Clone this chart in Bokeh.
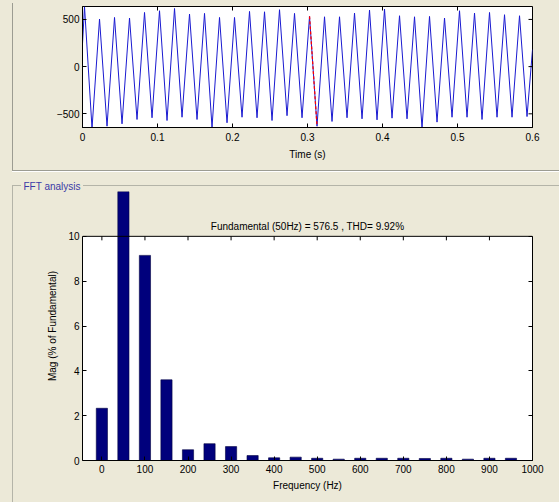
import numpy as np
from bokeh.plotting import figure
from bokeh.layouts import column
from bokeh.models import (Range1d, LinearAxis, FixedTicker, NumeralTickFormatter,
                          Span, Label)
from bokeh.embed import file_html
from bokeh.resources import INLINE

# ---------------------------------------------------------------------------
# Measured signal: extreme value of every half cycle of the 50 Hz waveform (V)
# ---------------------------------------------------------------------------
peak_values = [634, 504, 521, 515, 574, 592, 616, 557, 564, 521,
               521, 585, 581, 603, 564, 532, 528, 528, 567, 599,
               610, 539, 528, 532, 515, 592, 567, 574, 550, 539]
trough_values = [-652, -631, -606, -560, -542, -571, -536, -560, -642, -595,
                 -536, -542, -571, -520, -542, -631, -581, -542, -553, -564,
                 -546, -553, -649, -588, -536, -536, -560, -536, -536, -529]
start_value = 243        # value at t = 0
end_value = 180          # value at t = 0.6 s
first_peak_time = 0.0027
half_cycle = 0.01        # 50 Hz -> one extremum every 10 ms
fft_window = (0.30, 0.32)

time_ticks = [0, 0.1, 0.2, 0.3, 0.4, 0.5, 0.6]
signal_ticks = [-500, 0, 500]

# ---------------------------------------------------------------------------
# FFT of the selected cycle (% of fundamental)
# ---------------------------------------------------------------------------
freq_hz = [0, 50, 100, 150, 200, 250, 300, 350, 400, 450,
           500, 550, 600, 650, 700, 750, 800, 850, 900, 950]
mag_pct = [2.33, 100.0, 9.15, 3.60, 0.48, 0.75, 0.62, 0.22, 0.12, 0.15,
           0.10, 0.06, 0.10, 0.10, 0.10, 0.09, 0.10, 0.06, 0.10, 0.10]
fundamental = 576.5
thd_pct = 9.92
freq_ticks = [0, 100, 200, 300, 400, 500, 600, 700, 800, 900, 1000]
mag_ticks = [0, 2, 4, 6, 8, 10]

# ---------------------------------------------------------------------------
BG = "#ECE9D8"
EDGE = "#9c9c92"
GROUP = "#b4b4a8"
CAPTION = "#3a3aa6"
FONT = "Liberation Sans"
TICK_FS = "10px"
LABEL_FS = "10px"
W = 559
TICK_PX = 4


def style_axis(ax, ticks, labels=True):
    ax.ticker = FixedTicker(ticks=ticks)
    ax.major_tick_in = TICK_PX
    ax.major_tick_out = 0
    ax.minor_tick_line_color = None
    ax.axis_line_color = "black"
    ax.major_tick_line_color = "black"
    ax.major_label_text_font = FONT
    ax.major_label_text_font_size = TICK_FS
    ax.major_label_text_color = "black" if labels else None
    ax.axis_label_text_font = FONT
    ax.axis_label_text_font_size = LABEL_FS
    ax.axis_label_text_font_style = "normal"
    ax.axis_label_text_color = "black"


def css_lines(lines):
    """Panel background made of 1px rules: (x, y, w, h, colour)."""
    return {
        "background-color": BG,
        "background-image": ", ".join(f"linear-gradient({c}, {c})" for *_, c in lines),
        "background-size": ", ".join(f"{w}px {h}px" for _, _, w, h, _ in lines),
        "background-position": ", ".join(f"{x}px {y}px" for x, y, _, _, _ in lines),
        "background-repeat": "no-repeat",
    }


# ---------------------------- time signal panel ----------------------------
TL, TR, TT, TB, TH = 82, 27, 6, 43, 170
t_lo, t_hi = 0.0, 0.6
v_lo, v_hi = -645, 637

top = figure(width=W, height=TH, x_range=Range1d(t_lo, t_hi), y_range=Range1d(v_lo, v_hi),
             output_backend="svg", toolbar_location=None,
             min_border_left=TL, min_border_right=TR, min_border_top=TT, min_border_bottom=TB,
             background_fill_color="white", border_fill_color=None,
             outline_line_color="black",
             styles=css_lines([(12, 3, 1, TH - 3, EDGE)]))
top.grid.visible = False

style_axis(top.xaxis[0], time_ticks)
top.xaxis[0].formatter = NumeralTickFormatter(format="0.[0]")
top.xaxis[0].axis_label = "Time (s)"
top.xaxis[0].major_label_standoff = 5
top.xaxis[0].axis_label_standoff = 5
style_axis(top.yaxis[0], signal_ticks)
top.yaxis[0].major_label_standoff = 3

n_ext = 2 * len(peak_values)
ext_t = first_peak_time + half_cycle * np.arange(n_ext)
ext_v = np.empty(n_ext)
ext_v[0::2] = peak_values
ext_v[1::2] = trough_values
sig_t = np.concatenate([[t_lo], ext_t, [t_hi]])
sig_v = np.concatenate([[start_value], ext_v, [end_value]])

top.line(sig_t, sig_v, line_color="#1a1ad0", line_width=1)
sel = (sig_t >= fft_window[0]) & (sig_t <= fft_window[1])
top.line(sig_t[sel], sig_v[sel], line_color="#ff0000", line_width=1.3, line_dash="3 2")

# inward ticks on the top and right edges of the box
fw, fh = W - TL - TR, TH - TT - TB
tx = TICK_PX / fw * (t_hi - t_lo)
ty = TICK_PX / fh * (v_hi - v_lo)
top.segment(x0=time_ticks, x1=time_ticks, y0=[v_hi] * len(time_ticks),
            y1=[v_hi - ty] * len(time_ticks), line_color="black")
top.segment(x0=[t_hi] * len(signal_ticks), x1=[t_hi - tx] * len(signal_ticks),
            y0=signal_ticks, y1=signal_ticks, line_color="black")

# ------------------------------ FFT panel ----------------------------------
BL, BR, BT, BB, BH = 79, 26, 21, 42, 332
f_lo, f_hi = -45, 1000
m_lo, m_hi = 0, 12.0

bot_lines = [
    (12, 0, W - 12, 1, EDGE), (12, 1, W - 12, 1, "#ffffff"),        # panel separator
    (12, 15, 9, 1, GROUP), (83, 15, W - 83, 1, GROUP),              # group box top
    (12, 15, 1, BH - 15, GROUP),                                    # group box left
]
bot = figure(width=W, height=BH, x_range=Range1d(f_lo, f_hi), y_range=Range1d(m_lo, m_hi),
             title="FFT analysis",
             output_backend="svg", toolbar_location=None,
             min_border_left=BL, min_border_right=BR, min_border_top=BT, min_border_bottom=BB,
             background_fill_color=None, border_fill_color=None, outline_line_color=None,
             styles=css_lines(bot_lines))
bot.grid.visible = False
bot.title.align = "left"
bot.title.offset = 20 - BL
bot.title.standoff = 0
bot.title.text_font = FONT
bot.title.text_font_size = LABEL_FS
bot.title.text_font_style = "normal"
bot.title.text_color = CAPTION

bot.add_layout(LinearAxis(), "right")
style_axis(bot.below[0], freq_ticks)
bot.below[0].axis_label = "Frequency (Hz)"
bot.below[0].major_label_standoff = 4
bot.below[0].axis_label_standoff = 4
style_axis(bot.left[0], mag_ticks)
bot.left[0].bounds = (0, 10)
bot.left[0].axis_label = "Mag (% of Fundamental)"
bot.left[0].major_label_standoff = 3
bot.left[0].axis_label_standoff = 7
style_axis(bot.right[0], mag_ticks, labels=False)
bot.right[0].bounds = (0, 10)

box_top = mag_ticks[-1]
bot.quad(left=f_lo, right=f_hi, bottom=0, top=box_top, fill_color="white",
         line_color=None, level="underlay")
bot.add_layout(Span(location=box_top, dimension="width", line_color="black", line_width=1))

bfh = BH - BT - BB
tick_len = TICK_PX / bfh * (m_hi - m_lo)
bot.segment(x0=freq_ticks, x1=freq_ticks, y0=[box_top] * len(freq_ticks),
            y1=[box_top - tick_len] * len(freq_ticks), line_color="black", line_width=1)

bot.vbar(x=freq_hz, top=mag_pct, width=26, fill_color="#00007c", line_color="#000040",
         line_width=0.6)

# title of the spectrum, just above the box
title_y = m_hi - (56 - BT) / bfh * (m_hi - m_lo)
bot.add_layout(Label(x=(f_lo + f_hi) / 2, y=title_y,
                     text=f"Fundamental (50Hz) = {fundamental} , THD= {thd_pct}%",
                     text_align="center", text_baseline="alphabetic", text_font=FONT,
                     text_font_size=LABEL_FS, text_color="black"))

layout = column(top, bot)
open("out.html", "w").write(file_html(layout, INLINE))
